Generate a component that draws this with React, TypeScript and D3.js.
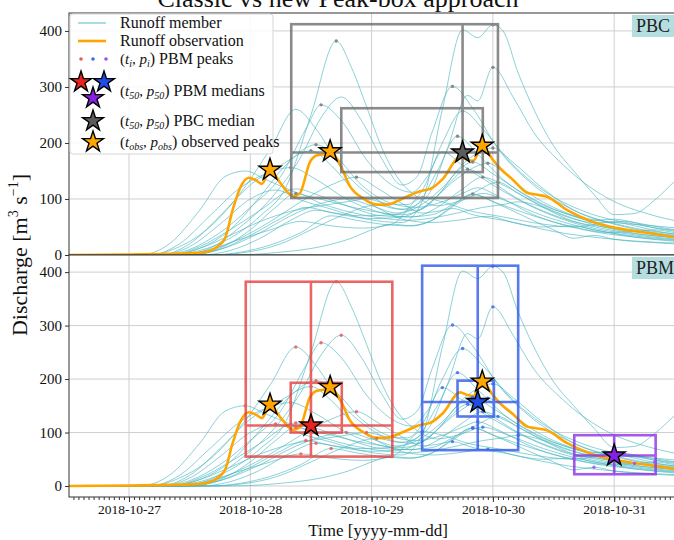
import { useEffect, useRef } from 'react';
import * as d3 from 'd3';

// hours after 2018-10-27 00:00 UTC -> discharge [m3/s]
const START = Date.UTC(2018, 9, 27);
const TITLE = 'Classic vs new Peak-box approach';
const dayTicks = [0, 24, 48, 72, 96];
const yTicks = [0, 100, 200, 300, 400];

const observation = [
  [-12, 0], [0, 1], [8, 2], [14, 4], [17, 12], [19, 30], [20.5, 80], [22, 120], [23.7, 138], [25, 134],
  [26.3, 127], [27.9, 152], [29.9, 129], [32.5, 105], [33.8, 110], [35.8, 166], [37.2, 178], [38.5, 180],
  [39.8, 185], [41.8, 161], [43.7, 123], [46.3, 101], [49.1, 90], [51, 90], [54.2, 101], [57.6, 114],
  [59.6, 118], [62.1, 136], [65.5, 175], [67, 170], [68.1, 168], [69.9, 195], [72, 170], [73.4, 155],
  [76, 134], [78.8, 111], [80.5, 108], [82.7, 104], [86.7, 80], [91.8, 59], [96.6, 48], [103, 39],
  [108, 32], [112, 28],
];

const members = [
  [[-12,0],[8,0],[14,8],[20,30],[26,70],[31,120],[36,250],[41,382],[44,335],[47,265],[50,192],[53,140],[57,104],[61,88],[66,98],[70,110],[75,95],[82,70],[92,45],[102,32],[112,25]],
  [[-12,0],[6,0],[12,10],[18,40],[24,85],[30,140],[35,225],[38,268],[42,240],[47,170],[52,125],[56,112],[59,140],[62,184],[66,160],[72,125],[80,85],[90,52],[100,36],[112,26]],
  [[-12,0],[10,0],[16,12],[22,50],[28,100],[34,175],[38,245],[42,282],[46,240],[50,172],[54,125],[57,140],[60,220],[64,301],[68,262],[73,190],[80,125],[88,80],[98,52],[112,34]],
  [[-12,0],[4,0],[10,15],[16,50],[22,110],[28,190],[33,260],[37,225],[42,155],[48,105],[54,82],[59,105],[63,190],[67,285],[69,275],[72,335],[76,282],[80,220],[86,160],[94,105],[104,70],[112,55]],
  [[-12,0],[6,0],[12,15],[18,55],[24,100],[29,116],[34,98],[40,82],[47,64],[54,58],[58,95],[62,260],[66,402],[69,388],[72,411],[74,400],[77,325],[80,262],[84,195],[88,150],[92,108],[96,72],[100,74],[104,98],[108,132],[112,165]],
  [[-12,0],[8,0],[14,12],[20,45],[26,105],[31,160],[37,197],[41,175],[46,125],[52,92],[57,85],[62,95],[66,110],[69,120],[73,105],[80,72],[90,45],[100,32],[112,24]],
  [[-12,0],[10,0],[16,8],[22,30],[28,60],[34,95],[40,125],[45,139],[49,120],[54,92],[58,75],[61,78],[64,83],[68,72],[74,62],[82,50],[88,52],[92,45],[100,32],[112,22]],
  [[-12,0],[6,0],[12,20],[18,70],[24,125],[30,160],[36,186],[40,160],[45,110],[50,80],[55,62],[60,58],[65,62],[71,69],[76,58],[84,42],[96,28],[112,20]],
  [[-12,0],[10,0],[18,10],[26,40],[32,70],[38,92],[43,100],[48,88],[53,75],[57,90],[61,150],[65,212],[69,180],[74,135],[80,98],[88,70],[96,58],[104,52],[112,45]],
  [[-12,0],[12,0],[18,10],[24,35],[30,65],[35,85],[40,76],[46,70],[52,72],[57,85],[62,120],[67,170],[72,191],[76,165],[82,118],[88,80],[96,55],[104,40],[112,32]],
  [[-12,0],[14,0],[20,8],[26,30],[32,62],[37,80],[42,72],[48,65],[54,68],[59,90],[64,130],[68,155],[71,164],[75,140],[80,105],[88,70],[96,48],[100,42],[104,45],[108,40],[112,36]],
  [[-12,0],[16,0],[24,6],[30,20],[36,45],[42,70],[49,89],[53,82],[57,80],[61,105],[65,150],[68,166],[72,145],[78,110],[86,75],[92,62],[96,64],[100,58],[106,48],[112,40]],
  [[-12,0],[8,0],[14,15],[20,45],[26,80],[33,118],[38,105],[44,85],[50,70],[56,68],[61,85],[66,118],[70,139],[74,125],[80,95],[88,65],[98,42],[112,28]],
  [[-12,0],[4,0],[10,20],[16,70],[22,120],[27,145],[32,156],[37,135],[43,100],[49,78],[55,68],[60,72],[64,90],[68,108],[73,92],[80,70],[88,50],[95,40],[100,42],[106,35],[112,30]],
  [[-12,0],[2,0],[8,20],[14,80],[19,140],[23,150],[27,135],[33,112],[40,95],[47,80],[54,72],[59,88],[63,125],[67,153],[71,135],[77,100],[85,68],[95,45],[112,30]],
  [[-12,0],[20,0],[30,5],[38,15],[44,30],[48,45],[52,55],[56,52],[60,62],[64,88],[68,109],[72,95],[78,70],[84,45],[88,30],[92,35],[96,28],[104,22],[112,18]],
  [[-12,0],[8,0],[14,12],[20,35],[26,60],[32,78],[38,88],[43,95],[47,100],[51,92],[55,90],[58,115],[62,200],[66,257],[70,225],[75,170],[82,115],[90,78],[100,55],[112,40]],
  [[-12,0],[12,0],[18,12],[24,45],[29,85],[33,110],[38,92],[44,76],[50,66],[55,62],[60,66],[65,75],[70,85],[74,90],[77,95],[81,88],[86,70],[92,58],[98,60],[104,48],[112,38]],
  [[-12,0],[16,0],[22,5],[28,18],[34,40],[40,70],[45,62],[50,55],[55,52],[60,62],[65,92],[69,115],[73,130],[77,110],[83,80],[88,60],[94,50],[104,38],[112,30]],
  [[-12,0],[10,0],[16,10],[22,28],[28,45],[34,60],[40,52],[46,48],[52,55],[58,102],[62,95],[67,80],[74,68],[82,55],[88,50],[96,59],[100,52],[106,40],[112,34]],
];

const obsPeaks = [[27.9, 152], [39.8, 185], [69.9, 195]];

// peak boxes: [tMin, tMax, pMin, pMax]
const pbcOuter = [32.1, 73, 102, 412];
const pbcInner = [42, 70, 148, 262];
const pbcMedian = [66, 183];

const pbmWindows = [[20, 54], [56, 80], [85, 106]];
const pbmOuter = [[23.1, 52.1, 55, 382], [58, 77, 67, 412], [88.1, 104.2, 22, 95]];
const pbmInner = [[32, 42.1, 100, 193], [65, 72.2, 130, 197], null];
const pbmMedian = [[36, 113], [69, 157], [96, 57]];

const W = 674, H = 540;
const L = 69, R = 681;
const serif = "'Liberation Serif','DejaVu Serif',serif";
const C = {
  member: '#45b5be', obs: '#ffa500', grid: '#cfcfcf', axis: '#333',
  box: ['#e63a3a', '#2a55ea', '#8b2be2'], star: ['#e8231e', '#1f4de6', '#8420de'],
  dot: ['#ec5a5a', '#4466f2', '#a050f2'], grey: '#6a6a6a', greyStar: '#5c5c5c', tag: '#a8d8dc',
};

const hDate = (h: number) => new Date(START + h * 3600e3);
const starPath = (r: number) => d3.symbol().type(d3.symbolStar).size((r * r) / 0.8908)();

function localPeak(m: number[][], lo: number, hi: number) {
  let best: number[] | null = null;
  for (let i = 1; i < m.length - 1; i++) {
    const [h, v] = m[i];
    if (h >= lo && h <= hi && v > m[i - 1][1] && v > m[i + 1][1] && (!best || v > best[1])) best = m[i];
  }
  return best;
}

export default function App() {
  const ref = useRef<SVGSVGElement>(null);

  useEffect(() => {
    const svg = d3.select(ref.current);
    svg.selectAll('*').remove();
    document.body.style.margin = '0';

    const x = d3.scaleUtc().domain([hDate(-11.87), hDate((R - 129) / 121.3 * 24)]).range([L, R]);
    const panels = [
      { y: d3.scaleLinear().domain([0, 432]).range([255, 13]), top: 13, bot: 255, tag: 'PBC' },
      { y: d3.scaleLinear().domain([-20.6, 432]).range([497, 255]), top: 255, bot: 497, tag: 'PBM' },
    ];
    const defs = svg.append('defs');

    const drawStar = (g: any, cx: number, cy: number, fill: string, r = 11.5) =>
      g.append('path').attr('d', starPath(r)).attr('transform', `translate(${cx},${cy})`)
        .attr('fill', fill).attr('stroke', '#000').attr('stroke-width', 1.4).attr('stroke-linejoin', 'miter');

    const drawBox = (g: any, y: any, outer: number[], inner: number[] | null, med: number[], color: string) => {
      const bg = g.append('g').attr('fill', 'none').attr('stroke', color).attr('stroke-width', 2.6).attr('opacity', 0.78);
      const rect = (b: number[]) => bg.append('rect')
        .attr('x', x(hDate(b[0]))).attr('y', y(b[3]))
        .attr('width', x(hDate(b[1])) - x(hDate(b[0]))).attr('height', y(b[2]) - y(b[3]));
      rect(outer);
      if (inner) rect(inner);
      bg.append('line').attr('x1', x(hDate(med[0]))).attr('x2', x(hDate(med[0]))).attr('y1', y(outer[2])).attr('y2', y(outer[3]));
      bg.append('line').attr('x1', x(hDate(outer[0]))).attr('x2', x(hDate(outer[1]))).attr('y1', y(med[1])).attr('y2', y(med[1]));
    };

    panels.forEach((p, pi) => {
      const y = p.y;
      const g = svg.append('g');
      defs.append('clipPath').attr('id', `clip${pi}`).append('rect')
        .attr('x', L).attr('y', p.top).attr('width', R - L).attr('height', p.bot - p.top);
      g.append('rect').attr('x', L).attr('y', p.top).attr('width', R - L).attr('height', p.bot - p.top).attr('fill', '#fff');

      // grid
      g.append('g').selectAll('line').data(yTicks).join('line')
        .attr('x1', L).attr('x2', R).attr('y1', d => y(d)).attr('y2', d => y(d))
        .attr('stroke', C.grid).attr('stroke-width', 1);
      g.append('g').selectAll('line').data(dayTicks).join('line')
        .attr('x1', d => x(hDate(d))).attr('x2', d => x(hDate(d))).attr('y1', p.top).attr('y2', p.bot)
        .attr('stroke', C.grid).attr('stroke-width', 1);

      const pg = g.append('g').attr('clip-path', `url(#clip${pi})`);
      const line = d3.line<number[]>().x(d => x(hDate(d[0]))).y(d => y(d[1])).curve(d3.curveMonotoneX);

      pg.append('g').selectAll('path').data(members).join('path')
        .attr('d', line).attr('fill', 'none').attr('stroke', C.member).attr('stroke-width', 1).attr('opacity', 0.62);
      pg.append('path').datum(observation).attr('d', line).attr('fill', 'none')
        .attr('stroke', C.obs).attr('stroke-width', 2.6);

      if (pi === 0) {
        drawBox(pg, y, pbcOuter, pbcInner, pbcMedian, C.grey);
        const maxima = members.map(m => d3.greatest(m, d => d[1]) as number[]);
        pg.append('g').selectAll('circle').data(maxima).join('circle')
          .attr('cx', d => x(hDate(d[0]))).attr('cy', d => y(d[1])).attr('r', 1.7).attr('fill', '#888');
        drawStar(pg, x(hDate(pbcMedian[0])), y(pbcMedian[1]), C.greyStar);
      } else {
        pbmOuter.forEach((b, k) => drawBox(pg, y, b, pbmInner[k], pbmMedian[k], C.box[k]));
        pbmWindows.forEach(([lo, hi], k) => {
          const peaks = members.map(m => localPeak(m, lo, hi)).filter(Boolean) as number[][];
          pg.append('g').selectAll('circle').data(peaks).join('circle')
            .attr('cx', d => x(hDate(d[0]))).attr('cy', d => y(d[1])).attr('r', 1.7).attr('fill', C.dot[k]).attr('opacity', 0.85);
        });
        pbmMedian.forEach((m, k) => drawStar(pg, x(hDate(m[0])), y(m[1]), C.star[k]));
      }
      obsPeaks.forEach(o => drawStar(pg, x(hDate(o[0])), y(o[1]), C.obs));

      // y axis
      g.append('g').attr('transform', `translate(${L},0)`)
        .call(d3.axisLeft(y).tickValues(yTicks).tickSize(4).tickPadding(3))
        .call(ax => {
          ax.select('.domain').remove();
          ax.selectAll('line').attr('stroke', C.axis);
          ax.selectAll('text').attr('fill', '#111').attr('font-family', serif).attr('font-size', 15);
        });

      // frame
      g.append('rect').attr('x', L).attr('y', p.top).attr('width', R - L).attr('height', p.bot - p.top)
        .attr('fill', 'none').attr('stroke', C.axis).attr('stroke-width', 1);

      // panel tag
      g.append('rect').attr('x', 632).attr('y', p.top + 2).attr('width', 60).attr('height', 22)
        .attr('fill', C.tag).attr('opacity', 0.85);
      g.append('text').attr('x', 636).attr('y', p.top + 19).attr('font-family', serif).attr('font-size', 18)
        .attr('fill', '#222').text(p.tag);
    });

    // bottom x axis
    const xb = svg.append('g').attr('transform', `translate(0,497)`);
    xb.call(d3.axisBottom(x).ticks(d3.utcHour.every(1)).tickSize(3).tickFormat(() => ''))
      .call(ax => { ax.select('.domain').remove(); ax.selectAll('line').attr('stroke', C.axis); });
    const xb2 = svg.append('g').attr('transform', `translate(0,497)`);
    xb2.call(d3.axisBottom(x).tickValues(dayTicks.map(hDate)).tickSize(5).tickPadding(2)
      .tickFormat(d => d3.utcFormat('%Y-%m-%d')(d as Date)))
      .call(ax => {
        ax.select('.domain').remove();
        ax.selectAll('line').attr('stroke', C.axis);
        ax.selectAll('text').attr('fill', '#111').attr('font-family', serif).attr('font-size', 13.5);
      });

    // axis labels
    svg.append('text').attr('x', 378).attr('y', 536).attr('text-anchor', 'middle')
      .attr('font-family', serif).attr('font-size', 17).attr('fill', '#111').text('Time [yyyy-mm-dd]');
    const yl = svg.append('text').attr('transform', 'translate(27,255) rotate(-90)').attr('text-anchor', 'middle')
      .attr('font-family', serif).attr('font-size', 22).attr('fill', '#111');
    yl.append('tspan').text('Discharge [m');
    yl.append('tspan').attr('font-size', 14).attr('dy', -9).text('3');
    yl.append('tspan').attr('dy', 9).text(' s');
    yl.append('tspan').attr('font-size', 14).attr('dy', -9).text('−1');
    yl.append('tspan').attr('dy', 9).text(']');

    // title (cropped at the top, as in the source)
    svg.append('text').attr('x', 338).attr('y', 7).attr('text-anchor', 'middle')
      .attr('font-family', serif).attr('font-size', 26).attr('fill', '#111').text(TITLE);

    // legend
    const lg = svg.append('g').attr('font-family', serif).attr('font-size', 16).attr('fill', '#111');
    lg.append('rect').attr('x', 70).attr('y', 14).attr('width', 203).attr('height', 140).attr('rx', 3)
      .attr('fill', '#fff').attr('fill-opacity', 0.85).attr('stroke', '#d6d6d6');
    lg.append('line').attr('x1', 78).attr('x2', 106).attr('y1', 23).attr('y2', 23).attr('stroke', C.member).attr('stroke-width', 1.3).attr('opacity', 0.7);
    lg.append('line').attr('x1', 78).attr('x2', 106).attr('y1', 41).attr('y2', 41).attr('stroke', C.obs).attr('stroke-width', 2.6);
    [81, 93, 106].forEach((cx, k) => lg.append('circle').attr('cx', cx).attr('cy', 59).attr('r', 1.8).attr('fill', C.dot[k]));
    drawStar(lg, 81, 82, C.star[0], 11);
    drawStar(lg, 104, 82, C.star[1], 11);
    drawStar(lg, 93, 98, C.star[2], 11);
    drawStar(lg, 93, 121, C.greyStar, 11);
    drawStar(lg, 93, 142, C.obs, 11);

    const mathLabel = (yy: number, t: string, p: string, rest: string) => {
      const tx = lg.append('text').attr('x', 120).attr('y', yy).attr('font-size', 15);
      tx.append('tspan').text('(');
      tx.append('tspan').attr('font-style', 'italic').text('t');
      tx.append('tspan').attr('font-size', 10).attr('font-style', 'italic').attr('dy', 3).text(t);
      tx.append('tspan').attr('dy', -3).text(', ');
      tx.append('tspan').attr('font-style', 'italic').text('p');
      tx.append('tspan').attr('font-size', 10).attr('font-style', 'italic').attr('dy', 3).text(p);
      tx.append('tspan').attr('dy', -3).attr('font-size', 16).text(') ' + rest);
    };
    lg.append('text').attr('x', 120).attr('y', 28).text('Runoff member');
    lg.append('text').attr('x', 120).attr('y', 46).text('Runoff observation');
    mathLabel(64, 'i', 'i', 'PBM peaks');
    mathLabel(96, '50', '50', 'PBM medians');
    mathLabel(126, '50', '50', 'PBC median');
    mathLabel(147, 'obs', 'obs', 'observed peaks');
  }, []);

  return (
    <svg ref={ref} width={W} height={H}
      style={{ position: 'absolute', left: 0, top: 0, background: '#fff', display: 'block' }} />
  );
}
